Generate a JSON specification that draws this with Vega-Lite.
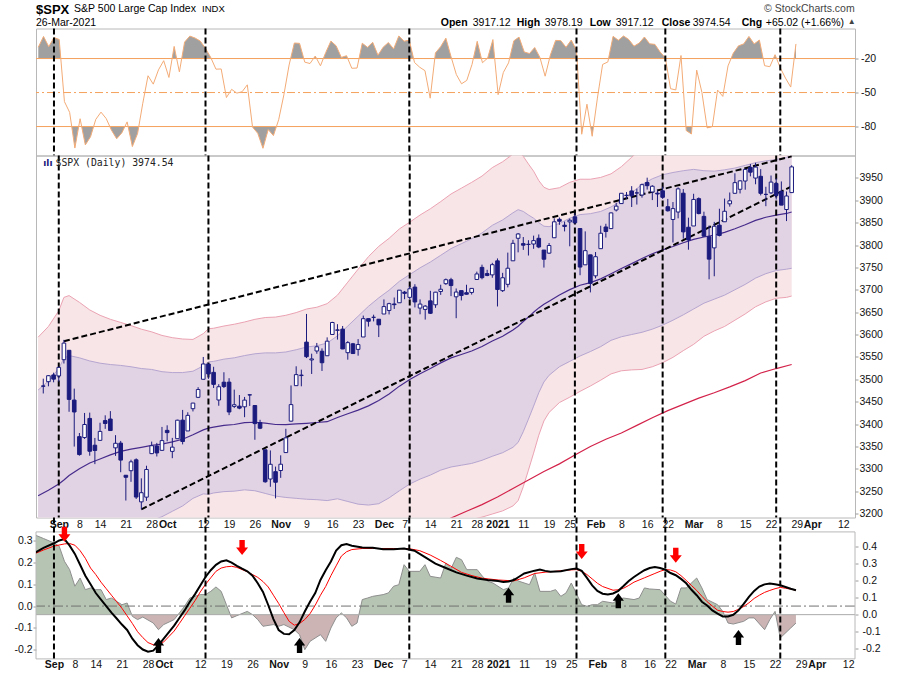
{
"$schema":"https://vega.github.io/schema/vega-lite/v6.json",
"background":"white",
"padding":{"left":13,"top":2.5,"right":5,"bottom":2},
"config":{
 "view":{"stroke":"#b8b8b8","strokeWidth":1},
 "axis":{"domain":false,"grid":false,"title":null,"labelFont":"Liberation Sans","labelFontSize":10.5,"labelColor":"#111","tickColor":"#9a9a9a","tickSize":3,"labelOverlap":false,"labelFlush":false,"labelBound":false},
 "text":{"font":"Liberation Sans"}
},
"datasets":{
 "ohlc":[
{"i":0,"o":3485.14,"h":3501.38,"l":3468.35,"c":3484.55},{"i":1,"o":3494.69,"h":3509.23,"l":3484.32,"c":3508.01},{"i":2,"o":3509.73,"h":3514.77,"l":3493.25,"c":3500.31},{"i":3,"o":3507.44,"h":3528.03,"l":3494.60,"c":3526.65},{"i":4,"o":3543.76,"h":3588.11,"l":3535.23,"c":3580.84},{"i":5,"o":3564.74,"h":3564.85,"l":3427.41,"c":3455.06},{"i":6,"o":3453.60,"h":3479.15,"l":3349.63,"c":3426.96},{"i":7,"o":3371.88,"h":3379.97,"l":3329.27,"c":3331.84},{"i":8,"o":3369.82,"h":3424.77,"l":3366.84,"c":3398.96},{"i":9,"o":3412.56,"h":3425.55,"l":3329.25,"c":3339.19},
{"i":10,"o":3352.70,"h":3368.95,"l":3310.47,"c":3340.97},{"i":11,"o":3363.56,"h":3402.93,"l":3363.56,"c":3383.54},{"i":12,"o":3407.73,"h":3419.48,"l":3389.25,"c":3401.20},{"i":13,"o":3411.23,"h":3428.92,"l":3384.45,"c":3385.49},{"i":14,"o":3346.86,"h":3375.17,"l":3328.82,"c":3357.01},{"i":15,"o":3357.38,"h":3362.27,"l":3292.40,"c":3319.47},{"i":16,"o":3285.57,"h":3285.57,"l":3229.10,"c":3281.06},{"i":17,"o":3295.75,"h":3320.31,"l":3270.95,"c":3315.57},{"i":18,"o":3320.11,"h":3323.35,"l":3232.57,"c":3236.92},{"i":19,"o":3226.14,"h":3278.70,"l":3209.45,"c":3246.59},
{"i":20,"o":3236.66,"h":3306.88,"l":3228.44,"c":3298.46},{"i":21,"o":3333.90,"h":3360.74,"l":3332.91,"c":3351.60},{"i":22,"o":3350.92,"h":3357.92,"l":3327.54,"c":3335.47},{"i":23,"o":3341.21,"h":3393.56,"l":3340.47,"c":3363.00},{"i":24,"o":3385.87,"h":3397.18,"l":3361.39,"c":3380.80},{"i":25,"o":3338.94,"h":3369.10,"l":3323.69,"c":3348.42},{"i":26,"o":3367.27,"h":3409.57,"l":3367.27,"c":3408.60},{"i":27,"o":3408.74,"h":3431.56,"l":3354.54,"c":3360.97},{"i":28,"o":3384.56,"h":3426.26,"l":3384.56,"c":3419.44},{"i":29,"o":3434.28,"h":3447.28,"l":3428.15,"c":3446.83},
{"i":30,"o":3459.67,"h":3482.34,"l":3458.07,"c":3477.14},{"i":31,"o":3500.02,"h":3549.85,"l":3499.61,"c":3534.22},{"i":32,"o":3534.01,"h":3534.01,"l":3500.86,"c":3511.93},{"i":33,"o":3515.47,"h":3527.94,"l":3480.55,"c":3488.67},{"i":34,"o":3453.72,"h":3489.08,"l":3440.89,"c":3483.34},{"i":35,"o":3493.50,"h":3515.76,"l":3480.45,"c":3483.81},{"i":36,"o":3493.66,"h":3502.42,"l":3419.93,"c":3426.92},{"i":37,"o":3439.38,"h":3476.93,"l":3435.65,"c":3443.12},{"i":38,"o":3439.91,"h":3464.86,"l":3433.06,"c":3435.56},{"i":39,"o":3438.50,"h":3460.53,"l":3415.34,"c":3453.49},
{"i":40,"o":3464.90,"h":3466.46,"l":3440.45,"c":3465.39},{"i":41,"o":3441.42,"h":3441.42,"l":3364.86,"c":3400.97},{"i":42,"o":3403.15,"h":3409.51,"l":3388.71,"c":3390.68},{"i":43,"o":3342.48,"h":3342.48,"l":3268.89,"c":3271.03},{"i":44,"o":3277.17,"h":3341.05,"l":3259.82,"c":3310.11},{"i":45,"o":3293.59,"h":3304.93,"l":3233.94,"c":3269.96},{"i":46,"o":3296.20,"h":3330.14,"l":3279.74,"c":3310.24},{"i":47,"o":3336.25,"h":3389.49,"l":3336.25,"c":3369.16},{"i":48,"o":3406.46,"h":3486.25,"l":3405.17,"c":3443.44},{"i":49,"o":3485.74,"h":3529.05,"l":3485.74,"c":3510.45},
{"i":50,"o":3508.34,"h":3521.58,"l":3484.34,"c":3509.44},{"i":51,"o":3583.04,"h":3645.99,"l":3547.48,"c":3550.50},{"i":52,"o":3543.26,"h":3557.22,"l":3511.91,"c":3545.53},{"i":53,"o":3563.22,"h":3581.16,"l":3557.00,"c":3572.66},{"i":54,"o":3562.67,"h":3569.02,"l":3518.58,"c":3537.01},{"i":55,"o":3552.57,"h":3593.66,"l":3552.57,"c":3585.15},{"i":56,"o":3600.16,"h":3628.51,"l":3600.16,"c":3626.91},{"i":57,"o":3610.31,"h":3623.11,"l":3588.68,"c":3609.53},{"i":58,"o":3612.09,"h":3619.09,"l":3567.33,"c":3567.79},{"i":59,"o":3559.41,"h":3585.22,"l":3543.84,"c":3581.87},
{"i":60,"o":3579.31,"h":3581.23,"l":3556.85,"c":3557.54},{"i":61,"o":3566.82,"h":3589.81,"l":3552.77,"c":3577.59},{"i":62,"o":3594.52,"h":3642.31,"l":3594.52,"c":3635.41},{"i":63,"o":3635.50,"h":3635.50,"l":3617.76,"c":3629.65},{"i":64,"o":3638.55,"h":3644.31,"l":3629.33,"c":3638.35},{"i":65,"o":3634.18,"h":3634.18,"l":3594.39,"c":3621.63},{"i":66,"o":3645.87,"h":3678.45,"l":3645.87,"c":3662.45},{"i":67,"o":3653.78,"h":3670.96,"l":3644.84,"c":3669.01},{"i":68,"o":3668.28,"h":3682.73,"l":3657.17,"c":3666.72},{"i":69,"o":3670.94,"h":3699.20,"l":3670.94,"c":3699.12},
{"i":70,"o":3694.73,"h":3697.41,"l":3678.88,"c":3691.96},{"i":71,"o":3683.05,"h":3708.45,"l":3678.83,"c":3702.25},{"i":72,"o":3705.98,"h":3712.39,"l":3660.54,"c":3672.82},{"i":73,"o":3659.13,"h":3678.49,"l":3645.18,"c":3668.10},{"i":74,"o":3656.08,"h":3665.91,"l":3633.40,"c":3663.46},{"i":75,"o":3675.27,"h":3697.61,"l":3645.84,"c":3647.49},{"i":76,"o":3666.41,"h":3695.29,"l":3659.62,"c":3694.62},{"i":77,"o":3696.25,"h":3711.27,"l":3688.57,"c":3701.17},{"i":78,"o":3713.65,"h":3725.12,"l":3710.87,"c":3722.48},{"i":79,"o":3722.39,"h":3726.70,"l":3685.84,"c":3709.41},
{"i":80,"o":3684.28,"h":3702.90,"l":3636.48,"c":3694.92},{"i":81,"o":3698.08,"h":3698.26,"l":3676.16,"c":3687.26},{"i":82,"o":3693.42,"h":3711.24,"l":3689.28,"c":3690.01},{"i":83,"o":3694.03,"h":3703.82,"l":3689.32,"c":3703.06},{"i":84,"o":3723.03,"h":3740.51,"l":3723.03,"c":3735.36},{"i":85,"o":3750.01,"h":3756.12,"l":3723.31,"c":3727.04},{"i":86,"o":3736.19,"h":3744.63,"l":3730.21,"c":3732.04},{"i":87,"o":3733.27,"h":3760.20,"l":3726.88,"c":3756.07},{"i":88,"o":3764.61,"h":3769.99,"l":3662.71,"c":3700.65},{"i":89,"o":3698.02,"h":3737.83,"l":3695.07,"c":3726.86},
{"i":90,"o":3712.20,"h":3783.04,"l":3705.34,"c":3748.14},{"i":91,"o":3764.71,"h":3811.55,"l":3764.71,"c":3803.79},{"i":92,"o":3815.05,"h":3826.69,"l":3783.60,"c":3824.68},{"i":93,"o":3803.14,"h":3817.86,"l":3789.02,"c":3799.61},{"i":94,"o":3801.62,"h":3810.78,"l":3776.51,"c":3801.19},{"i":95,"o":3802.23,"h":3820.96,"l":3791.50,"c":3809.84},{"i":96,"o":3814.98,"h":3823.60,"l":3792.86,"c":3795.54},{"i":97,"o":3788.73,"h":3788.73,"l":3749.62,"c":3768.25},{"i":98,"o":3781.88,"h":3804.53,"l":3780.37,"c":3798.91},{"i":99,"o":3816.22,"h":3859.75,"l":3816.22,"c":3851.85},
{"i":100,"o":3857.46,"h":3861.45,"l":3845.05,"c":3853.07},{"i":101,"o":3844.24,"h":3852.31,"l":3830.41,"c":3841.47},{"i":102,"o":3851.68,"h":3859.23,"l":3797.16,"c":3855.36},{"i":103,"o":3862.96,"h":3870.90,"l":3847.78,"c":3849.62},{"i":104,"o":3836.83,"h":3836.83,"l":3732.48,"c":3750.77},{"i":105,"o":3755.75,"h":3830.50,"l":3755.75,"c":3787.38},{"i":106,"o":3778.05,"h":3778.05,"l":3694.12,"c":3714.24},{"i":107,"o":3731.17,"h":3784.32,"l":3725.62,"c":3773.86},{"i":108,"o":3791.84,"h":3843.09,"l":3791.84,"c":3826.31},{"i":109,"o":3840.27,"h":3847.51,"l":3816.68,"c":3830.17},
{"i":110,"o":3836.66,"h":3872.42,"l":3836.66,"c":3871.74},{"i":111,"o":3878.30,"h":3894.56,"l":3874.93,"c":3886.83},{"i":112,"o":3892.59,"h":3915.77,"l":3892.59,"c":3915.59},{"i":113,"o":3910.49,"h":3918.35,"l":3902.64,"c":3911.23},{"i":114,"o":3920.78,"h":3931.50,"l":3884.94,"c":3909.88},{"i":115,"o":3916.40,"h":3925.99,"l":3890.39,"c":3916.38},{"i":116,"o":3911.65,"h":3937.23,"l":3905.78,"c":3934.83},{"i":117,"o":3939.61,"h":3950.43,"l":3923.85,"c":3932.59},{"i":118,"o":3918.50,"h":3933.61,"l":3900.43,"c":3931.33},{"i":119,"o":3915.86,"h":3921.98,"l":3885.03,"c":3913.97},
{"i":120,"o":3921.16,"h":3930.41,"l":3903.07,"c":3906.71},{"i":121,"o":3885.55,"h":3902.92,"l":3874.71,"c":3876.50},{"i":122,"o":3857.07,"h":3895.98,"l":3805.59,"c":3881.37},{"i":123,"o":3873.71,"h":3928.65,"l":3859.60,"c":3925.43},{"i":124,"o":3915.80,"h":3925.02,"l":3814.04,"c":3829.34},{"i":125,"o":3839.66,"h":3861.08,"l":3789.54,"c":3811.15},{"i":126,"o":3842.51,"h":3914.50,"l":3842.51,"c":3901.82},{"i":127,"o":3903.64,"h":3906.41,"l":3868.57,"c":3870.29},{"i":128,"o":3863.99,"h":3874.47,"l":3818.86,"c":3819.72},{"i":129,"o":3818.53,"h":3843.67,"l":3723.34,"c":3768.47},
{"i":130,"o":3793.58,"h":3851.69,"l":3730.19,"c":3841.94},{"i":131,"o":3844.39,"h":3881.06,"l":3819.25,"c":3821.35},{"i":132,"o":3851.93,"h":3903.76,"l":3851.93,"c":3875.44},{"i":133,"o":3891.99,"h":3917.35,"l":3885.73,"c":3898.81},{"i":134,"o":3915.54,"h":3960.27,"l":3915.54,"c":3939.34},{"i":135,"o":3924.52,"h":3944.99,"l":3915.21,"c":3943.34},{"i":136,"o":3942.96,"h":3970.08,"l":3923.54,"c":3968.94},{"i":137,"o":3973.59,"h":3981.04,"l":3953.44,"c":3962.71},{"i":138,"o":3949.57,"h":3983.87,"l":3935.74,"c":3974.12},{"i":139,"o":3953.50,"h":3969.62,"l":3910.86,"c":3915.46},
{"i":140,"o":3913.14,"h":3930.12,"l":3886.75,"c":3913.10},{"i":141,"o":3916.48,"h":3955.31,"l":3914.16,"c":3940.59},{"i":142,"o":3937.60,"h":3949.13,"l":3901.57,"c":3910.52},{"i":143,"o":3919.93,"h":3942.08,"l":3889.07,"c":3889.14},{"i":144,"o":3879.34,"h":3919.54,"l":3853.50,"c":3909.52},{"i":145,"o":3917.12,"h":3978.19,"l":3917.12,"c":3974.54}
 ],
 "wr":[
{"i":0,"r":-10},{"i":1,"r":-0.5},{"i":2,"r":-9.5},{"i":3,"r":-1.5},{"i":4,"r":-3.2},{"i":5,"r":-58},{"i":6,"r":-67.5},{"i":7,"r":-99.0},{"i":8,"r":-73.1},{"i":9,"r":-96.2},
{"i":10,"r":-89.0},{"i":11,"r":-73.7},{"i":12,"r":-67.3},{"i":13,"r":-73.0},{"i":14,"r":-83.2},{"i":15,"r":-90.8},{"i":16,"r":-85.5},{"i":17,"r":-75.9},{"i":18,"r":-97.7},{"i":19,"r":-86.2},
{"i":20,"r":-59.4},{"i":21,"r":-35.2},{"i":22,"r":-42.6},{"i":23,"r":-30.0},{"i":24,"r":-21.9},{"i":25,"r":-36.7},{"i":26,"r":-9.3},{"i":27,"r":-31.8},{"i":28,"r":-5.5},{"i":29,"r":-0.2},
{"i":30,"r":-1.9},{"i":31,"r":-4.6},{"i":32,"r":-11.1},{"i":33,"r":-19.0},{"i":34,"r":-29.4},{"i":35,"r":-29.2},{"i":36,"r":-54.4},{"i":37,"r":-47.2},{"i":38,"r":-50.5},{"i":39,"r":-49.3},
{"i":40,"r":-43.2},{"i":41,"r":-80.5},{"i":42,"r":-86.0},{"i":43,"r":-99.2},{"i":44,"r":-82.7},{"i":45,"r":-88.0},{"i":46,"r":-74.0},{"i":47,"r":-52.0},{"i":48,"r":-25.7},{"i":49,"r":-6.3},
{"i":50,"r":-6.6},{"i":51,"r":-23.2},{"i":52,"r":-24.4},{"i":53,"r":-17.8},{"i":54,"r":-26.4},{"i":55,"r":-14.8},{"i":56,"r":-4.6},{"i":57,"r":-8.8},{"i":58,"r":-19.0},{"i":59,"r":-17.5},
{"i":60,"r":-28.6},{"i":61,"r":-28.4},{"i":62,"r":-6.5},{"i":63,"r":-10.1},{"i":64,"r":-5.7},{"i":65,"r":-17.1},{"i":66,"r":-10.0},{"i":67,"r":-5.9},{"i":68,"r":-11.5},{"i":69,"r":-0.1},
{"i":70,"r":-4.7},{"i":71,"r":-3.8},{"i":72,"r":-23.5},{"i":73,"r":-27.7},{"i":74,"r":-30.7},{"i":75,"r":-55.0},{"i":76,"r":-15.1},{"i":77,"r":-9.5},{"i":78,"r":-2.0},{"i":79,"r":-18.5},
{"i":80,"r":-34.1},{"i":81,"r":-42.3},{"i":82,"r":-39.3},{"i":83,"r":-25.3},{"i":84,"r":-4.8},{"i":85,"r":-23.7},{"i":86,"r":-19.6},{"i":87,"r":-3.3},{"i":88,"r":-51.9},{"i":89,"r":-32.3},
{"i":90,"r":-23.8},{"i":91,"r":-4.4},{"i":92,"r":-1.1},{"i":93,"r":-14.2},{"i":94,"r":-15.6},{"i":95,"r":-10.3},{"i":96,"r":-19.0},{"i":97,"r":-35.6},{"i":98,"r":-16.9},{"i":99,"r":-4.0},
{"i":100,"r":-4.2},{"i":101,"r":-10.1},{"i":102,"r":-3.7},{"i":103,"r":-12.9},{"i":104,"r":-86.8},{"i":105,"r":-60.3},{"i":106,"r":-88.6},{"i":107,"r":-54.9},{"i":108,"r":-25.2},{"i":109,"r":-23.0},
{"i":110,"r":-0.4},{"i":111,"r":-3.9},{"i":112,"r":-0.1},{"i":113,"r":-3.2},{"i":114,"r":-9.1},{"i":115,"r":-6.4},{"i":116,"r":-1.0},{"i":117,"r":-7.0},{"i":118,"r":-7.5},{"i":119,"r":-14.2},
{"i":120,"r":-19.4},{"i":121,"r":-46.6},{"i":122,"r":-47.7},{"i":123,"r":-17.3},{"i":124,"r":-83.6},{"i":125,"r":-86.6},{"i":126,"r":-30.2},{"i":127,"r":-49.8},{"i":128,"r":-81.2},{"i":129,"r":-80.1},
{"i":130,"r":-47.8},{"i":131,"r":-53.4},{"i":132,"r":-26.5},{"i":133,"r":-15.3},{"i":134,"r":-8.8},{"i":135,"r":-7.1},{"i":136,"r":-0.5},{"i":137,"r":-7.1},{"i":138,"r":-3.7},{"i":139,"r":-26.3},
{"i":140,"r":-27.2},{"i":141,"r":-16.6},{"i":142,"r":-28.2},{"i":143,"r":-37.3},{"i":144,"r":-45.2},{"i":145,"r":-7.1}
 ],
 "bands":[
{"i":-1,"m":3240,"u3":3594,"u2":3476,"l2":3004,"l3":2886},{"i":1,"m":3252,"u3":3618,"u2":3496,"l2":3008,"l3":2886},{"i":3,"m":3266,"u3":3653,"u2":3524,"l2":3008,"l3":2879},{"i":4,"m":3275,"u3":3683,"u2":3547,"l2":3003,"l3":2867},{"i":5,"m":3285,"u3":3687,"u2":3553,"l2":3017,"l3":2883},{"i":7,"m":3300,"u3":3672,"u2":3548,"l2":3052,"l3":2928},{"i":9,"m":3313,"u3":3655,"u2":3541,"l2":3085,"l3":2971},{"i":11,"m":3322,"u3":3643,"u2":3536,"l2":3108,"l3":3001},{"i":13,"m":3331,"u3":3634,"u2":3533,"l2":3129,"l3":3028},{"i":15,"m":3339,"u3":3627,"u2":3531,"l2":3147,"l3":3051},{"i":17,"m":3344,"u3":3620,"u2":3528,"l2":3160,"l3":3068},{"i":19,"m":3348,"u3":3612,"u2":3524,"l2":3172,"l3":3084},{"i":21,"m":3352.5,"u3":3606,"u2":3522,"l2":3184,"l3":3099},{"i":23,"m":3355,"u3":3598,"u2":3517,"l2":3193,"l3":3112},{"i":25,"m":3360,"u3":3593,"u2":3515,"l2":3205,"l3":3128},{"i":27,"m":3366,"u3":3590,"u2":3515,"l2":3217,"l3":3143},{"i":29,"m":3376,"u3":3589,"u2":3518,"l2":3234,"l3":3163},{"i":31,"m":3387,"u3":3602,"u2":3530,"l2":3244,"l3":3173},{"i":32,"m":3391,"u3":3613,"u2":3539,"l2":3243,"l3":3169},{"i":33,"m":3393,"u3":3614,"u2":3540,"l2":3246,"l3":3173},{"i":35,"m":3397,"u3":3619,"u2":3545,"l2":3249,"l3":3175},{"i":37,"m":3399,"u3":3623,"u2":3548,"l2":3250,"l3":3176},{"i":39,"m":3403,"u3":3628,"u2":3553,"l2":3253,"l3":3178},{"i":41,"m":3404,"u3":3634,"u2":3557,"l2":3251,"l3":3175},{"i":43,"m":3402,"u3":3638,"u2":3559,"l2":3245,"l3":3167},{"i":45,"m":3399,"u3":3639,"u2":3559,"l2":3239,"l3":3159},{"i":47,"m":3398.5,"u3":3643,"u2":3561,"l2":3236,"l3":3154},{"i":49,"m":3400.3,"u3":3649,"u2":3566,"l2":3234,"l3":3151},{"i":51,"m":3401.6,"u3":3657,"u2":3572,"l2":3232,"l3":3147},{"i":53,"m":3403.4,"u3":3661,"u2":3575,"l2":3231,"l3":3145},{"i":55,"m":3405.2,"u3":3669,"u2":3581,"l2":3229,"l3":3141},{"i":57,"m":3414.7,"u3":3688,"u2":3597,"l2":3233,"l3":3142},{"i":59,"m":3423.0,"u3":3717,"u2":3619,"l2":3227,"l3":3129},{"i":61,"m":3431.2,"u3":3746,"u2":3641,"l2":3221,"l3":3116},{"i":63,"m":3440.7,"u3":3774,"u2":3663,"l2":3219,"l3":3108},{"i":65,"m":3452.4,"u3":3797,"u2":3682,"l2":3222,"l3":3107},{"i":67,"m":3467.1,"u3":3815,"u2":3699,"l2":3235,"l3":3119},{"i":69,"m":3484.7,"u3":3836,"u2":3719,"l2":3251,"l3":3134},{"i":71,"m":3499.6,"u3":3851,"u2":3734,"l2":3266,"l3":3149},{"i":73,"m":3512.5,"u3":3867,"u2":3749,"l2":3277,"l3":3159},{"i":75,"m":3524.1,"u3":3881,"u2":3762,"l2":3286,"l3":3167},{"i":77,"m":3536.6,"u3":3897,"u2":3777,"l2":3297,"l3":3177},{"i":79,"m":3547.9,"u3":3914,"u2":3792,"l2":3304,"l3":3182},{"i":81,"m":3555.4,"u3":3927,"u2":3803,"l2":3308,"l3":3183},{"i":83,"m":3563.2,"u3":3940,"u2":3814,"l2":3312,"l3":3187},{"i":85,"m":3573.1,"u3":3954,"u2":3827,"l2":3319,"l3":3192},{"i":87,"m":3585.5,"u3":3973,"u2":3844,"l2":3328,"l3":3199},{"i":89,"m":3596.3,"u3":3986,"u2":3856,"l2":3336,"l3":3206},{"i":91,"m":3610.0,"u3":4003,"u2":3872,"l2":3348,"l3":3217},{"i":92,"m":3618.6,"u3":4009,"u2":3879,"l2":3359,"l3":3229},{"i":93,"m":3629.2,"u3":3998,"u2":3875,"l2":3383,"l3":3260},{"i":94,"m":3639.0,"u3":3981,"u2":3867,"l2":3411,"l3":3297},{"i":95,"m":3649.8,"u3":3965,"u2":3860,"l2":3440,"l3":3335},{"i":96,"m":3659.5,"u3":3944,"u2":3850,"l2":3470,"l3":3375},{"i":97,"m":3667.5,"u3":3929,"u2":3842,"l2":3494,"l3":3407},{"i":98,"m":3674.6,"u3":3924,"u2":3841,"l2":3509,"l3":3426},{"i":100,"m":3688.3,"u3":3928,"u2":3848,"l2":3528,"l3":3448},{"i":102,"m":3700.3,"u3":3940,"u2":3860,"l2":3540,"l3":3460},{"i":104,"m":3710.2,"u3":3947,"u2":3868,"l2":3552,"l3":3473},{"i":106,"m":3716.0,"u3":3947,"u2":3870,"l2":3562,"l3":3485},{"i":108,"m":3724.4,"u3":3951,"u2":3875,"l2":3573,"l3":3498},{"i":110,"m":3735.7,"u3":3959,"u2":3885,"l2":3587,"l3":3512},{"i":112,"m":3747.4,"u3":3975,"u2":3899,"l2":3595,"l3":3519},{"i":114,"m":3758.5,"u3":3996,"u2":3917,"l2":3600,"l3":3521},{"i":116,"m":3769.9,"u3":4017,"u2":3935,"l2":3605,"l3":3522},{"i":118,"m":3780.4,"u3":4032,"u2":3948,"l2":3612,"l3":3528},{"i":120,"m":3789.0,"u3":4041,"u2":3957,"l2":3621,"l3":3537},{"i":122,"m":3796.7,"u3":4044,"u2":3962,"l2":3632,"l3":3549},{"i":124,"m":3805.1,"u3":4047,"u2":3966,"l2":3644,"l3":3564},{"i":126,"m":3812.5,"u3":4047,"u2":3969,"l2":3657,"l3":3578},{"i":128,"m":3817.9,"u3":4040,"u2":3966,"l2":3670,"l3":3596},{"i":130,"m":3822.0,"u3":4037,"u2":3965,"l2":3679,"l3":3608},{"i":132,"m":3828.4,"u3":4038,"u2":3968,"l2":3688,"l3":3618},{"i":134,"m":3836.4,"u3":4040,"u2":3972,"l2":3700,"l3":3632},{"i":136,"m":3845.4,"u3":4045,"u2":3978,"l2":3712,"l3":3646},{"i":138,"m":3855.0,"u3":4049,"u2":3984,"l2":3726,"l3":3662},{"i":140,"m":3862.1,"u3":4051,"u2":3988,"l2":3736,"l3":3673},{"i":142,"m":3866.6,"u3":4053,"u2":3991,"l2":3743,"l3":3681},{"i":144,"m":3870.5,"u3":4058,"u2":3996,"l2":3746,"l3":3683},{"i":145,"m":3873.8,"u3":4062,"u2":3999,"l2":3748,"l3":3686}
 ],
 "ma200":[
{"i":75,"v":3168},{"i":79,"v":3190},{"i":82,"v":3205},{"i":85,"v":3220},{"i":88,"v":3237},{"i":91,"v":3256},{"i":94,"v":3275},{"i":97,"v":3294},{"i":100,"v":3311},{"i":103,"v":3331},{"i":106,"v":3350},{"i":109,"v":3366},{"i":112,"v":3380},{"i":115,"v":3397},{"i":118,"v":3414},{"i":121,"v":3430},{"i":124,"v":3444},{"i":127,"v":3458},{"i":130,"v":3470},{"i":133,"v":3483},{"i":136,"v":3497},{"i":139,"v":3514},{"i":142,"v":3524},{"i":145,"v":3533}
 ],
 "trend":[{"i":4,"p":3585,"i2":145,"p2":3998},{"i":19,"p":3209.45,"i2":145,"p2":3931}],
 "vl":[{"i":3},{"i":32},{"i":71},{"i":103},{"i":120},{"i":142}],
 "hist":[
{"i":-1,"w":0.47},{"i":1,"w":0.445},{"i":3,"w":0.419},{"i":4,"w":0.40},{"i":5,"w":0.312},{"i":6,"w":0.263},{"i":7,"w":0.166},{"i":8,"w":0.214},{"i":9,"w":0.146},{"i":10,"w":0.156},{"i":11,"w":0.146},{"i":12,"w":0.146},{"i":13,"w":0.088},{"i":14,"w":0.097},{"i":16,"w":0.058},{"i":17,"w":0.068},{"i":18,"w":-0.01},{"i":19,"w":-0.029},{"i":20,"w":-0.014},{"i":22,"w":-0.049},{"i":23,"w":-0.088},{"i":24,"w":-0.058},{"i":26,"w":-0.029},{"i":27,"w":0.01},{"i":28,"w":0.049},{"i":29,"w":0.097},{"i":31,"w":0.117},{"i":32,"w":0.117},{"i":33,"w":0.136},{"i":34,"w":0.162},{"i":35,"w":0.136},{"i":36,"w":0.058},{"i":37,"w":-0.019},{"i":38,"w":-0.006},{"i":40,"w":0.019},{"i":41,"w":0.0},{"i":42,"w":-0.029},{"i":43,"w":-0.068},{"i":45,"w":-0.058},{"i":46,"w":-0.068},{"i":47,"w":-0.058},{"i":49,"w":-0.088},{"i":50,"w":-0.117},{"i":51,"w":-0.205},{"i":52,"w":-0.156},{"i":54,"w":-0.117},{"i":55,"w":-0.156},{"i":56,"w":-0.078},{"i":57,"w":-0.019},{"i":58,"w":0.01},{"i":59,"w":-0.019},{"i":60,"w":-0.068},{"i":61,"w":-0.049},{"i":62,"w":0.088},{"i":63,"w":0.097},{"i":64,"w":0.107},{"i":66,"w":0.117},{"i":67,"w":0.127},{"i":68,"w":0.166},{"i":69,"w":0.175},{"i":70,"w":0.292},{"i":71,"w":0.253},{"i":73,"w":0.253},{"i":74,"w":0.292},{"i":75,"w":0.224},{"i":77,"w":0.214},{"i":78,"w":0.302},{"i":79,"w":0.27},{"i":80,"w":0.335},{"i":81,"w":0.321},{"i":82,"w":0.263},{"i":84,"w":0.263},{"i":85,"w":0.224},{"i":86,"w":0.195},{"i":87,"w":0.185},{"i":89,"w":0.146},{"i":90,"w":0.156},{"i":91,"w":0.214},{"i":92,"w":0.195},{"i":94,"w":0.175},{"i":95,"w":0.244},{"i":96,"w":0.136},{"i":98,"w":0.136},{"i":99,"w":0.146},{"i":100,"w":0.107},{"i":101,"w":0.127},{"i":102,"w":0.185},{"i":104,"w":0.058},{"i":105,"w":0.049},{"i":106,"w":0.058},{"i":107,"w":0.058},{"i":108,"w":0.078},{"i":110,"w":0.068},{"i":111,"w":0.088},{"i":112,"w":0.097},{"i":114,"w":0.088},{"i":115,"w":0.097},{"i":116,"w":0.156},{"i":117,"w":0.15},{"i":119,"w":0.146},{"i":121,"w":0.078},{"i":122,"w":0.062},{"i":123,"w":0.156},{"i":124,"w":0.156},{"i":126,"w":0.214},{"i":127,"w":0.156},{"i":128,"w":0.088},{"i":130,"w":0.058},{"i":131,"w":0.019},{"i":132,"w":-0.049},{"i":133,"w":-0.055},{"i":135,"w":-0.039},{"i":136,"w":-0.019},{"i":137,"w":-0.019},{"i":139,"w":-0.088},{"i":140,"w":-0.029},{"i":141,"w":0.019},{"i":142,"w":-0.136},{"i":144,"w":-0.078},{"i":145,"w":-0.049}
 ],
 "blk":[
{"i":-1,"v":0.24},{"i":1,"v":0.268},{"i":3,"v":0.289},{"i":4,"v":0.302},{"i":5,"v":0.308},{"i":6,"v":0.278},{"i":7,"v":0.24},{"i":8,"v":0.19},{"i":9,"v":0.14},{"i":10,"v":0.1},{"i":11,"v":0.06},{"i":12,"v":0.03},{"i":13,"v":0.0},{"i":14,"v":-0.03},{"i":15,"v":-0.057},{"i":16,"v":-0.085},{"i":17,"v":-0.11},{"i":18,"v":-0.15},{"i":19,"v":-0.18},{"i":20,"v":-0.2},{"i":21,"v":-0.21},{"i":22,"v":-0.205},{"i":23,"v":-0.18},{"i":24,"v":-0.15},{"i":25,"v":-0.12},{"i":26,"v":-0.09},{"i":27,"v":-0.055},{"i":28,"v":-0.02},{"i":29,"v":0.02},{"i":30,"v":0.055},{"i":31,"v":0.095},{"i":32,"v":0.134},{"i":33,"v":0.165},{"i":34,"v":0.19},{"i":35,"v":0.205},{"i":36,"v":0.211},{"i":37,"v":0.2},{"i":38,"v":0.185},{"i":39,"v":0.172},{"i":40,"v":0.16},{"i":41,"v":0.14},{"i":42,"v":0.105},{"i":43,"v":0.065},{"i":44,"v":0.005},{"i":45,"v":-0.06},{"i":46,"v":-0.11},{"i":47,"v":-0.128},{"i":48,"v":-0.13},{"i":49,"v":-0.11},{"i":50,"v":-0.075},{"i":51,"v":-0.025},{"i":52,"v":0.02},{"i":53,"v":0.06},{"i":54,"v":0.12},{"i":55,"v":0.165},{"i":56,"v":0.205},{"i":57,"v":0.255},{"i":58,"v":0.28},{"i":59,"v":0.285},{"i":60,"v":0.278},{"i":62,"v":0.27},{"i":64,"v":0.268},{"i":66,"v":0.262},{"i":68,"v":0.262},{"i":70,"v":0.265},{"i":72,"v":0.255},{"i":74,"v":0.225},{"i":76,"v":0.195},{"i":78,"v":0.175},{"i":80,"v":0.155},{"i":82,"v":0.14},{"i":84,"v":0.127},{"i":86,"v":0.12},{"i":88,"v":0.115},{"i":89,"v":0.111},{"i":90,"v":0.113},{"i":91,"v":0.12},{"i":92,"v":0.135},{"i":93,"v":0.15},{"i":95,"v":0.163},{"i":96,"v":0.168},{"i":97,"v":0.162},{"i":98,"v":0.158},{"i":100,"v":0.16},{"i":102,"v":0.17},{"i":103,"v":0.173},{"i":104,"v":0.162},{"i":105,"v":0.13},{"i":106,"v":0.095},{"i":107,"v":0.07},{"i":108,"v":0.057},{"i":109,"v":0.053},{"i":110,"v":0.058},{"i":111,"v":0.07},{"i":112,"v":0.092},{"i":113,"v":0.115},{"i":114,"v":0.134},{"i":115,"v":0.15},{"i":116,"v":0.165},{"i":117,"v":0.175},{"i":118,"v":0.18},{"i":119,"v":0.175},{"i":120,"v":0.167},{"i":121,"v":0.152},{"i":122,"v":0.142},{"i":123,"v":0.125},{"i":124,"v":0.105},{"i":125,"v":0.075},{"i":126,"v":0.05},{"i":127,"v":0.02},{"i":128,"v":0.003},{"i":129,"v":-0.02},{"i":130,"v":-0.035},{"i":131,"v":-0.048},{"i":132,"v":-0.048},{"i":133,"v":-0.04},{"i":134,"v":-0.02},{"i":135,"v":0.01},{"i":136,"v":0.042},{"i":137,"v":0.07},{"i":138,"v":0.09},{"i":139,"v":0.1},{"i":140,"v":0.104},{"i":141,"v":0.1},{"i":142,"v":0.096},{"i":143,"v":0.088},{"i":144,"v":0.08},{"i":145,"v":0.073}
 ],
 "sig":[
{"i":-1,"v":0.238},{"i":1,"v":0.258},{"i":3,"v":0.276},{"i":5,"v":0.286},{"i":6,"v":0.288},{"i":7,"v":0.28},{"i":8,"v":0.255},{"i":9,"v":0.22},{"i":10,"v":0.175},{"i":11,"v":0.145},{"i":12,"v":0.11},{"i":13,"v":0.08},{"i":14,"v":0.05},{"i":15,"v":0.02},{"i":16,"v":-0.01},{"i":17,"v":-0.045},{"i":18,"v":-0.08},{"i":19,"v":-0.118},{"i":20,"v":-0.145},{"i":21,"v":-0.168},{"i":22,"v":-0.178},{"i":23,"v":-0.18},{"i":24,"v":-0.165},{"i":25,"v":-0.14},{"i":26,"v":-0.115},{"i":27,"v":-0.08},{"i":28,"v":-0.045},{"i":29,"v":-0.01},{"i":30,"v":0.025},{"i":31,"v":0.065},{"i":32,"v":0.1},{"i":33,"v":0.13},{"i":34,"v":0.16},{"i":35,"v":0.175},{"i":36,"v":0.181},{"i":37,"v":0.183},{"i":38,"v":0.178},{"i":39,"v":0.168},{"i":40,"v":0.158},{"i":41,"v":0.145},{"i":42,"v":0.132},{"i":43,"v":0.113},{"i":44,"v":0.088},{"i":45,"v":0.05},{"i":46,"v":0.012},{"i":47,"v":-0.03},{"i":48,"v":-0.07},{"i":49,"v":-0.088},{"i":50,"v":-0.08},{"i":51,"v":-0.062},{"i":52,"v":-0.035},{"i":53,"v":0.004},{"i":54,"v":0.05},{"i":55,"v":0.09},{"i":56,"v":0.14},{"i":57,"v":0.185},{"i":58,"v":0.23},{"i":59,"v":0.25},{"i":60,"v":0.26},{"i":62,"v":0.265},{"i":64,"v":0.265},{"i":68,"v":0.265},{"i":71,"v":0.264},{"i":73,"v":0.255},{"i":75,"v":0.235},{"i":77,"v":0.21},{"i":79,"v":0.183},{"i":81,"v":0.155},{"i":83,"v":0.14},{"i":85,"v":0.128},{"i":88,"v":0.12},{"i":91,"v":0.116},{"i":93,"v":0.13},{"i":95,"v":0.15},{"i":97,"v":0.156},{"i":99,"v":0.16},{"i":101,"v":0.165},{"i":103,"v":0.168},{"i":104,"v":0.16},{"i":105,"v":0.145},{"i":106,"v":0.125},{"i":107,"v":0.105},{"i":108,"v":0.09},{"i":110,"v":0.073},{"i":111,"v":0.075},{"i":112,"v":0.082},{"i":113,"v":0.095},{"i":114,"v":0.11},{"i":116,"v":0.13},{"i":118,"v":0.15},{"i":119,"v":0.16},{"i":120,"v":0.168},{"i":121,"v":0.166},{"i":122,"v":0.158},{"i":123,"v":0.14},{"i":124,"v":0.118},{"i":125,"v":0.095},{"i":126,"v":0.072},{"i":127,"v":0.045},{"i":128,"v":0.02},{"i":129,"v":0.0},{"i":130,"v":-0.019},{"i":131,"v":-0.025},{"i":132,"v":-0.028},{"i":133,"v":-0.025},{"i":134,"v":-0.015},{"i":135,"v":-0.002},{"i":136,"v":0.015},{"i":137,"v":0.035},{"i":138,"v":0.05},{"i":139,"v":0.063},{"i":140,"v":0.072},{"i":141,"v":0.08},{"i":142,"v":0.086},{"i":143,"v":0.082},{"i":144,"v":0.078},{"i":145,"v":0.073}
 ],
 "adn":[{"i":5,"v":0.331},{"i":39,"v":0.269},{"i":104,"v":0.251},{"i":122,"v":0.234}],
 "aup":[{"i":23,"v":-0.182},{"i":50,"v":-0.182},{"i":90,"v":0.05},{"i":111,"v":0.025},{"i":134,"v":-0.145}],
 "frame":[{"i":-0.44},{"i":156.3}]
},
"bounds":"flush",
"spacing":0,
"vconcat":[
{
 "width":819,"height":127,
 "layer":[
  {"data":{"name":"wr"},"mark":{"type":"area","clip":true,"color":{"gradient":"linear","x1":0,"y1":0,"x2":0,"y2":1,"stops":[{"offset":0,"color":"#a0a0a0"},{"offset":0.2008,"color":"#a0a0a0"},{"offset":0.2008,"color":"rgba(255,255,255,0)"},{"offset":1,"color":"rgba(255,255,255,0)"}]}},
   "encoding":{"x":{"field":"i","type":"quantitative","scale":{"domain":[-0.44,156.3],"nice":false,"zero":false},"axis":null},"y":{"field":"r","type":"quantitative","scale":{"domain":[-105.56,6.5],"nice":false,"zero":false}},"y2":{"datum":-20}}},
  {"data":{"name":"wr"},"mark":{"type":"area","clip":true,"color":{"gradient":"linear","x1":0,"y1":0,"x2":0,"y2":1,"stops":[{"offset":0,"color":"rgba(255,255,255,0)"},{"offset":0.8063,"color":"rgba(255,255,255,0)"},{"offset":0.8063,"color":"#a0a0a0"},{"offset":1,"color":"#a0a0a0"}]}},
   "encoding":{"x":{"field":"i","type":"quantitative","scale":{"domain":[-0.44,156.3],"nice":false,"zero":false},"axis":null},"y":{"field":"r","type":"quantitative","scale":{"domain":[-105.56,6.5],"nice":false,"zero":false}},"y2":{"datum":-80}}},
  {"data":{"values":[{"v":-20},{"v":-80}]},"mark":{"type":"rule","color":"#f6a25c","strokeWidth":1},
   "encoding":{"y":{"field":"v","type":"quantitative","scale":{"domain":[-105.56,6.5],"nice":false,"zero":false},"axis":{"orient":"right","values":[-20,-50,-80],"tickCount":100,"labelExpr":"'' + datum.value","tickSize":3,"labelPadding":2.4,"labelOverlap":false}}}},
  {"data":{"values":[{"v":-50}]},"mark":{"type":"rule","color":"#f6a25c","strokeWidth":1,"strokeDash":[8,3,2,3]},
   "encoding":{"y":{"field":"v","type":"quantitative","scale":{"domain":[-105.56,6.5],"nice":false,"zero":false}}}},
  {"data":{"name":"wr"},"mark":{"type":"line","color":"#f3ab76","strokeWidth":1,"clip":true},
   "encoding":{"x":{"field":"i","type":"quantitative","scale":{"domain":[-0.44,156.3],"nice":false,"zero":false},"axis":null},"y":{"field":"r","type":"quantitative","scale":{"domain":[-105.56,6.5],"nice":false,"zero":false}}}},
  {"data":{"name":"vl"},"mark":{"type":"rule","color":"#000","strokeWidth":2,"strokeDash":[6,3]},
   "encoding":{"x":{"field":"i","type":"quantitative","scale":{"domain":[-0.44,156.3],"nice":false,"zero":false},"axis":null}}},
  {"data":{"values":[{}]},"mark":{"type":"text","align":"left","baseline":"middle","font":"Liberation Sans","fontSize":13,"fontWeight":"bold","color":"#000"},
   "encoding":{"x":{"datum":-0.44,"scale":{"domain":[-0.44,156.3],"nice":false,"zero":false},"axis":null},"y":{"datum":23.09,"scale":{"domain":[-105.56,6.5],"nice":false,"zero":false}},"text":{"value":"$SPX"}}},
  {"data":{"values":[{}]},"mark":{"type":"text","align":"left","baseline":"middle","font":"Liberation Sans","fontSize":10.5,"color":"#000"},
   "encoding":{"x":{"datum":6.85,"scale":{"domain":[-0.44,156.3],"nice":false,"zero":false},"axis":null},"y":{"datum":23.4,"scale":{"domain":[-105.56,6.5],"nice":false,"zero":false}},"text":{"value":"S&P 500 Large Cap Index"}}},
  {"data":{"values":[{}]},"mark":{"type":"text","align":"left","baseline":"middle","font":"Liberation Sans","fontSize":9.5,"color":"#000"},
   "encoding":{"x":{"datum":31.35,"scale":{"domain":[-0.44,156.3],"nice":false,"zero":false},"axis":null},"y":{"datum":23.4,"scale":{"domain":[-105.56,6.5],"nice":false,"zero":false}},"text":{"value":"INDX"}}},
  {"data":{"values":[{}]},"mark":{"type":"text","align":"left","baseline":"middle","font":"Liberation Sans","fontSize":10.5,"color":"#000"},
   "encoding":{"x":{"datum":-0.44,"scale":{"domain":[-0.44,156.3],"nice":false,"zero":false},"axis":null},"y":{"datum":11.53,"scale":{"domain":[-105.56,6.5],"nice":false,"zero":false}},"text":{"value":"26-Mar-2021"}}},
  {"data":{"values":[{}]},"mark":{"type":"text","align":"right","baseline":"middle","font":"Liberation Sans","fontSize":10.5,"color":"#444"},
   "encoding":{"x":{"datum":156.24,"scale":{"domain":[-0.44,156.3],"nice":false,"zero":false},"axis":null},"y":{"datum":23.5,"scale":{"domain":[-105.56,6.5],"nice":false,"zero":false}},"text":{"value":"© StockCharts.com"}}},
  {"data":{"values":[{}]},"mark":{"type":"text","align":"left","baseline":"middle","font":"Liberation Sans","fontSize":10.5,"fontWeight":"bold","color":"#000"},
   "encoding":{"x":{"datum":77.02,"scale":{"domain":[-0.44,156.3],"nice":false,"zero":false},"axis":null},"y":{"datum":11.53,"scale":{"domain":[-105.56,6.5],"nice":false,"zero":false}},"text":{"value":"Open"}}},
  {"data":{"values":[{}]},"mark":{"type":"text","align":"left","baseline":"middle","font":"Liberation Sans","fontSize":10.5,"color":"#000"},
   "encoding":{"x":{"datum":83.14,"scale":{"domain":[-0.44,156.3],"nice":false,"zero":false},"axis":null},"y":{"datum":11.53,"scale":{"domain":[-105.56,6.5],"nice":false,"zero":false}},"text":{"value":"3917.12"}}},
  {"data":{"values":[{}]},"mark":{"type":"text","align":"left","baseline":"middle","font":"Liberation Sans","fontSize":10.5,"fontWeight":"bold","color":"#000"},
   "encoding":{"x":{"datum":91.56,"scale":{"domain":[-0.44,156.3],"nice":false,"zero":false},"axis":null},"y":{"datum":11.53,"scale":{"domain":[-105.56,6.5],"nice":false,"zero":false}},"text":{"value":"High"}}},
  {"data":{"values":[{}]},"mark":{"type":"text","align":"left","baseline":"middle","font":"Liberation Sans","fontSize":10.5,"color":"#000"},
   "encoding":{"x":{"datum":96.92,"scale":{"domain":[-0.44,156.3],"nice":false,"zero":false},"axis":null},"y":{"datum":11.53,"scale":{"domain":[-105.56,6.5],"nice":false,"zero":false}},"text":{"value":"3978.19"}}},
  {"data":{"values":[{}]},"mark":{"type":"text","align":"left","baseline":"middle","font":"Liberation Sans","fontSize":10.5,"fontWeight":"bold","color":"#000"},
   "encoding":{"x":{"datum":105.53,"scale":{"domain":[-0.44,156.3],"nice":false,"zero":false},"axis":null},"y":{"datum":11.53,"scale":{"domain":[-105.56,6.5],"nice":false,"zero":false}},"text":{"value":"Low"}}},
  {"data":{"values":[{}]},"mark":{"type":"text","align":"left","baseline":"middle","font":"Liberation Sans","fontSize":10.5,"color":"#000"},
   "encoding":{"x":{"datum":110.51,"scale":{"domain":[-0.44,156.3],"nice":false,"zero":false},"axis":null},"y":{"datum":11.53,"scale":{"domain":[-105.56,6.5],"nice":false,"zero":false}},"text":{"value":"3917.12"}}},
  {"data":{"values":[{}]},"mark":{"type":"text","align":"left","baseline":"middle","font":"Liberation Sans","fontSize":10.5,"fontWeight":"bold","color":"#000"},
   "encoding":{"x":{"datum":119.31,"scale":{"domain":[-0.44,156.3],"nice":false,"zero":false},"axis":null},"y":{"datum":11.53,"scale":{"domain":[-105.56,6.5],"nice":false,"zero":false}},"text":{"value":"Close"}}},
  {"data":{"values":[{}]},"mark":{"type":"text","align":"left","baseline":"middle","font":"Liberation Sans","fontSize":10.5,"color":"#000"},
   "encoding":{"x":{"datum":125.25,"scale":{"domain":[-0.44,156.3],"nice":false,"zero":false},"axis":null},"y":{"datum":11.53,"scale":{"domain":[-105.56,6.5],"nice":false,"zero":false}},"text":{"value":"3974.54"}}},
  {"data":{"values":[{}]},"mark":{"type":"text","align":"left","baseline":"middle","font":"Liberation Sans","fontSize":10.5,"fontWeight":"bold","color":"#000"},
   "encoding":{"x":{"datum":134.63,"scale":{"domain":[-0.44,156.3],"nice":false,"zero":false},"axis":null},"y":{"datum":11.53,"scale":{"domain":[-105.56,6.5],"nice":false,"zero":false}},"text":{"value":"Chg"}}},
  {"data":{"values":[{}]},"mark":{"type":"text","align":"left","baseline":"middle","font":"Liberation Sans","fontSize":10.5,"color":"#000"},
   "encoding":{"x":{"datum":139.22,"scale":{"domain":[-0.44,156.3],"nice":false,"zero":false},"axis":null},"y":{"datum":11.53,"scale":{"domain":[-105.56,6.5],"nice":false,"zero":false}},"text":{"value":"+65.02 (+1.66%)"}}},
  {"data":{"values":[{}]},"mark":{"type":"text","align":"left","baseline":"middle","font":"Liberation Sans","fontSize":8,"color":"#444"},
   "encoding":{"x":{"datum":154.91,"scale":{"domain":[-0.44,156.3],"nice":false,"zero":false},"axis":null},"y":{"datum":11.9,"scale":{"domain":[-105.56,6.5],"nice":false,"zero":false}},"text":{"value":"▲"}}}
 ]
},
{
 "width":819,"height":362,
 "layer":[
  {"data":{"name":"bands"},"mark":{"type":"area","clip":true,"color":"#f8e5e7"},
   "encoding":{"x":{"field":"i","type":"quantitative","scale":{"domain":[-0.44,156.3],"nice":false,"zero":false}},"y":{"field":"u3","type":"quantitative","scale":{"domain":[3191.2,4000],"nice":false,"zero":false}},"y2":{"field":"l3"}}},
  {"data":{"name":"bands"},"mark":{"type":"area","clip":true,"color":"#e1d3e3"},
   "encoding":{"x":{"field":"i","type":"quantitative","scale":{"domain":[-0.44,156.3],"nice":false,"zero":false}},"y":{"field":"u2","type":"quantitative","scale":{"domain":[3191.2,4000],"nice":false,"zero":false}},"y2":{"field":"l2"}}},
  {"data":{"name":"bands"},"mark":{"type":"line","clip":true,"color":"#eba3b3","strokeWidth":1},
   "encoding":{"x":{"field":"i","type":"quantitative","scale":{"domain":[-0.44,156.3],"nice":false,"zero":false}},"y":{"field":"u3","type":"quantitative","scale":{"domain":[3191.2,4000],"nice":false,"zero":false}}}},
  {"data":{"name":"bands"},"mark":{"type":"line","clip":true,"color":"#eba3b3","strokeWidth":1},
   "encoding":{"x":{"field":"i","type":"quantitative","scale":{"domain":[-0.44,156.3],"nice":false,"zero":false}},"y":{"field":"l3","type":"quantitative","scale":{"domain":[3191.2,4000],"nice":false,"zero":false}}}},
  {"data":{"name":"bands"},"mark":{"type":"line","clip":true,"color":"#b6a5d0","strokeWidth":1},
   "encoding":{"x":{"field":"i","type":"quantitative","scale":{"domain":[-0.44,156.3],"nice":false,"zero":false}},"y":{"field":"u2","type":"quantitative","scale":{"domain":[3191.2,4000],"nice":false,"zero":false}}}},
  {"data":{"name":"bands"},"mark":{"type":"line","clip":true,"color":"#b6a5d0","strokeWidth":1},
   "encoding":{"x":{"field":"i","type":"quantitative","scale":{"domain":[-0.44,156.3],"nice":false,"zero":false}},"y":{"field":"l2","type":"quantitative","scale":{"domain":[3191.2,4000],"nice":false,"zero":false}}}},
  {"data":{"name":"bands"},"mark":{"type":"line","clip":true,"color":"#472b8c","strokeWidth":1.2},
   "encoding":{"x":{"field":"i","type":"quantitative","scale":{"domain":[-0.44,156.3],"nice":false,"zero":false}},"y":{"field":"m","type":"quantitative","scale":{"domain":[3191.2,4000],"nice":false,"zero":false}}}},
  {"data":{"name":"ma200"},"mark":{"type":"line","clip":true,"color":"#d3224a","strokeWidth":1.2},
   "encoding":{"x":{"field":"i","type":"quantitative","scale":{"domain":[-0.44,156.3],"nice":false,"zero":false}},"y":{"field":"v","type":"quantitative","scale":{"domain":[3191.2,4000],"nice":false,"zero":false}}}},
  {"data":{"name":"trend"},"mark":{"type":"rule","color":"#000","strokeWidth":2,"strokeDash":[6,3]},
   "encoding":{"x":{"field":"i","type":"quantitative","scale":{"domain":[-0.44,156.3],"nice":false,"zero":false}},"x2":{"field":"i2"},"y":{"field":"p","type":"quantitative","scale":{"domain":[3191.2,4000],"nice":false,"zero":false}},"y2":{"field":"p2"}}},
  {"data":{"name":"vl"},"mark":{"type":"rule","color":"#000","strokeWidth":2,"strokeDash":[6,3]},
   "encoding":{"x":{"field":"i","type":"quantitative","scale":{"domain":[-0.44,156.3],"nice":false,"zero":false}}}},
  {"data":{"name":"ohlc"},"mark":{"type":"rule","color":"#1b1b7e","strokeWidth":1},
   "encoding":{"x":{"field":"i","type":"quantitative","scale":{"domain":[-0.44,156.3],"nice":false,"zero":false},
      "axis":{"orient":"bottom","ticks":false,"labelPadding":2.3,"labelOverlap":false,"labelFlush":false,"tickCount":200,"values":[3,7,11,16,21,24,31,36,41,46,51,56,61,66,70,75,80,84,88,93,98,102,107,112,117,121,126,131,136,141,146,149,155],
       "labelExpr":"['Sep','8','14','21','28','Oct','12','19','26','Nov','9','16','23','Dec','7','14','21','28','2021','11','19','25','Feb','8','16','22','Mar','8','15','22','29','Apr','12'][indexof([3,7,11,16,21,24,31,36,41,46,51,56,61,66,70,75,80,84,88,93,98,102,107,112,117,121,126,131,136,141,146,149,155], datum.value)]",
       "labelFontWeight":{"condition":{"test":"indexof([3,24,46,66,88,107,126,149], datum.value) >= 0","value":"bold"},"value":"normal"}}},
    "y":{"field":"l","type":"quantitative","scale":{"domain":[3191.2,4000],"nice":false,"zero":false},
      "axis":{"orient":"right","values":[3200,3250,3300,3350,3400,3450,3500,3550,3600,3650,3700,3750,3800,3850,3900,3950],"tickCount":100,"format":"d","tickSize":3,"labelPadding":1,"labelOverlap":false}},
    "y2":{"field":"h"}}},
  {"data":{"name":"ohlc"},"mark":{"type":"bar","size":3.6,"stroke":"#1b1b7e","strokeWidth":1},
   "encoding":{"x":{"field":"i","type":"quantitative","scale":{"domain":[-0.44,156.3],"nice":false,"zero":false}},"y":{"field":"o","type":"quantitative","scale":{"domain":[3191.2,4000],"nice":false,"zero":false}},"y2":{"field":"c"},
    "fill":{"condition":{"test":"datum.c > datum.o","value":"#ffffff"},"value":"#1b1b7e"}}},
  {"data":{"values":[{}]},"mark":{"type":"text","align":"left","baseline":"middle","font":"DejaVu Sans Mono","fontSize":9.8,"color":"#222"},
   "encoding":{"x":{"datum":2.37,"scale":{"domain":[-0.44,156.3],"nice":false,"zero":false}},"y":{"datum":3982.8,"scale":{"domain":[3191.2,4000],"nice":false,"zero":false}},"text":{"value":"$SPX (Daily) 3974.54"}}},
  {"data":{"values":[{}]},"mark":{"type":"text","align":"left","baseline":"middle","font":"DejaVu Sans","fontSize":9,"fontWeight":"bold","color":"#1b1b7e"},
   "encoding":{"x":{"datum":0.0,"scale":{"domain":[-0.44,156.3],"nice":false,"zero":false}},"y":{"datum":3983.5,"scale":{"domain":[3191.2,4000],"nice":false,"zero":false}},"text":{"value":"ılı"}}}
 ]
},
{
 "width":819,"height":141.4,
 "view":{"stroke":null},
 "resolve":{"scale":{"y":"independent"},"axis":{"y":"independent"}},
 "layer":[
  {"layer":[
    {"data":{"name":"hist"},"mark":{"type":"area","clip":true,"color":{"gradient":"linear","x1":0,"y1":0,"x2":0,"y2":1,"stops":[{"offset":0,"color":"#b6c5b3"},{"offset":0.6963,"color":"#b6c5b3"},{"offset":0.6963,"color":"#ccb4b4"},{"offset":1,"color":"#ccb4b4"}]}},
     "encoding":{"x":{"field":"i","type":"quantitative","scale":{"domain":[-0.44,156.3],"nice":false,"zero":false}},
      "y":{"field":"w","type":"quantitative","scale":{"domain":[-0.2587,0.5678],"nice":false,"zero":false},"axis":{"orient":"right","values":[-0.2,-0.1,0,0.1,0.2,0.3,0.4],"tickCount":100,"labelExpr":"datum.value < 0 ? '-' + format(-datum.value, '.1f') : format(datum.value, '.1f')","tickSize":3,"labelPadding":4,"labelOverlap":false}},
      "y2":{"datum":0}}},
    {"data":{"name":"hist"},"mark":{"type":"line","clip":true,"color":"#8e8e8e","strokeWidth":1},
     "encoding":{"x":{"field":"i","type":"quantitative","scale":{"domain":[-0.44,156.3],"nice":false,"zero":false}},"y":{"field":"w","type":"quantitative","scale":{"domain":[-0.2587,0.5678],"nice":false,"zero":false}}}},
    {"data":{"values":[{"v":0}]},"mark":{"type":"rule","color":"#aaaaaa","strokeWidth":1},
     "encoding":{"y":{"field":"v","type":"quantitative","scale":{"domain":[-0.2587,0.5678],"nice":false,"zero":false}}}}
  ]},
  {"layer":[
    {"data":{"values":[{"v":0}]},"mark":{"type":"rule","color":"#707070","strokeWidth":1,"strokeDash":[10,3,2,3]},
     "encoding":{"y":{"field":"v","type":"quantitative","scale":{"domain":[-0.2431,0.4076],"nice":false,"zero":false},
      "axis":{"orient":"left","values":[-0.2,-0.1,0,0.1,0.2,0.3],"tickCount":100,"labelExpr":"datum.value < 0 ? '-' + format(-datum.value, '.1f') : format(datum.value, '.1f')","tickSize":3,"labelPadding":1,"labelOverlap":false}}}},
    {"data":{"values":[{"v":0.3413},{"v":-0.2431}]},"mark":{"type":"rule","color":"#b8b8b8","strokeWidth":1},
     "encoding":{"y":{"field":"v","type":"quantitative","scale":{"domain":[-0.2431,0.4076],"nice":false,"zero":false}}}},
    {"data":{"name":"frame"},"mark":{"type":"rule","color":"#b8b8b8","strokeWidth":1},
     "encoding":{"x":{"field":"i","type":"quantitative","scale":{"domain":[-0.44,156.3],"nice":false,"zero":false}},"y":{"datum":-0.2431,"scale":{"domain":[-0.2431,0.4076],"nice":false,"zero":false}},"y2":{"datum":0.3413}}},
    {"data":{"name":"sig"},"mark":{"type":"line","clip":true,"color":"#ff0000","strokeWidth":1},
     "encoding":{"x":{"field":"i","type":"quantitative","scale":{"domain":[-0.44,156.3],"nice":false,"zero":false}},"y":{"field":"v","type":"quantitative","scale":{"domain":[-0.2431,0.4076],"nice":false,"zero":false}}}},
    {"data":{"name":"blk"},"mark":{"type":"line","clip":true,"color":"#000000","strokeWidth":2},
     "encoding":{"x":{"field":"i","type":"quantitative","scale":{"domain":[-0.44,156.3],"nice":false,"zero":false},
      "axis":{"orient":"bottom","ticks":false,"labelPadding":0.8,"labelOverlap":false,"labelFlush":false,"tickCount":200,"values":[3,7,11,16,21,24,31,36,41,46,51,56,61,66,70,75,80,84,88,93,98,102,107,112,117,121,126,131,136,141,146,149,155],
       "labelExpr":"['Sep','8','14','21','28','Oct','12','19','26','Nov','9','16','23','Dec','7','14','21','28','2021','11','19','25','Feb','8','16','22','Mar','8','15','22','29','Apr','12'][indexof([3,7,11,16,21,24,31,36,41,46,51,56,61,66,70,75,80,84,88,93,98,102,107,112,117,121,126,131,136,141,146,149,155], datum.value)]",
       "labelFontWeight":{"condition":{"test":"indexof([3,24,46,66,88,107,126,149], datum.value) >= 0","value":"bold"},"value":"normal"}}},
      "y":{"field":"v","type":"quantitative","scale":{"domain":[-0.2431,0.4076],"nice":false,"zero":false}}}},
    {"data":{"name":"vl"},"mark":{"type":"rule","color":"#000","strokeWidth":2,"strokeDash":[6,3]},
     "encoding":{"x":{"field":"i","type":"quantitative","scale":{"domain":[-0.44,156.3],"nice":false,"zero":false}}}},
    {"data":{"name":"adn"},"mark":{"type":"point","filled":true,"color":"#ff0000","opacity":1,"size":225,"strokeWidth":0,"shape":"M-0.36,-1L0.36,-1L0.36,0L0.8,0L0,1L-0.8,0L-0.36,0Z"},
     "encoding":{"x":{"field":"i","type":"quantitative","scale":{"domain":[-0.44,156.3],"nice":false,"zero":false}},"y":{"field":"v","type":"quantitative","scale":{"domain":[-0.2431,0.4076],"nice":false,"zero":false}}}},
    {"data":{"name":"aup"},"mark":{"type":"point","filled":true,"color":"#000000","opacity":1,"size":225,"strokeWidth":0,"shape":"M-0.36,1L0.36,1L0.36,0L0.75,0L0,-1L-0.75,0L-0.36,0Z"},
     "encoding":{"x":{"field":"i","type":"quantitative","scale":{"domain":[-0.44,156.3],"nice":false,"zero":false}},"y":{"field":"v","type":"quantitative","scale":{"domain":[-0.2431,0.4076],"nice":false,"zero":false}}}}
  ]}
 ]
}
]
}
